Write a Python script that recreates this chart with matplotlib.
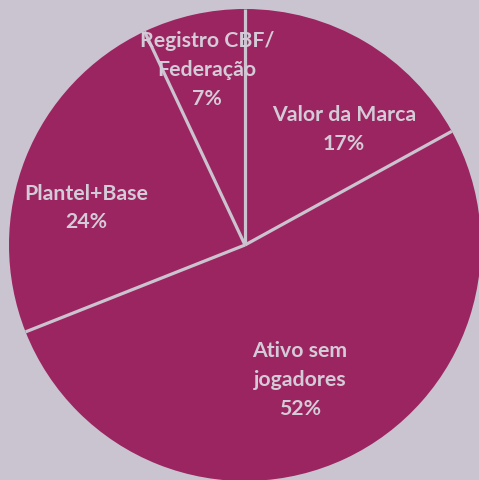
import numpy as np
import matplotlib.pyplot as plt

# slices, clockwise from 12 o'clock
labels = ["Valor da Marca", "Ativo sem\njogadores", "Plantel+Base", "Registro CBF/\nFederação"]
shares = [17, 52, 24, 7]

bg = "#c9c4d0"
pie_color = "#9b2560"
line_color = "#cbc3cf"
text_color = "#d4cbd8"

fig = plt.figure(figsize=(4.79, 4.81), dpi=100, facecolor=bg)
ax = fig.add_axes([0, 0, 1, 1])
ax.set_facecolor(bg)

wedges, _ = ax.pie(shares, startangle=90, counterclock=False, radius=1,
                   colors=[pie_color] * len(shares),
                   wedgeprops=dict(linewidth=0))

# separator lines between slices (no outline on the rim)
for w in wedges:
    t = np.deg2rad(w.theta1)
    ax.plot([0, np.cos(t)], [0, np.sin(t)], color=line_color, lw=2.3,
            solid_capstyle="butt", zorder=3)

# label positions inside the slices
label_pos = [(0.42, 0.494), (0.233, -0.568), (-0.674, 0.161), (-0.161, 0.746)]
for lab, val, (x, y) in zip(labels, shares, label_pos):
    ax.text(x, y, f"{lab}\n{val}%", ha="center", va="center", color=text_color,
            fontsize=15.3, fontweight="bold", family="Lato", linespacing=1.55,
            zorder=4)

ax.set_xlim(-245 / 236, (479 - 245) / 236)
ax.set_ylim(-(481 - 246) / 236, 246 / 236)
ax.axis("off")

fig.savefig("out.png", dpi=100, facecolor=bg)
